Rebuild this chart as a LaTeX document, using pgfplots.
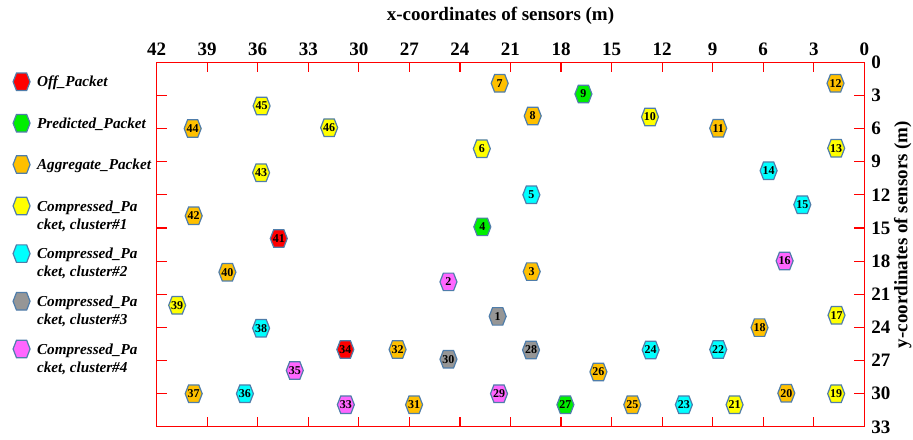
\documentclass[border=0pt]{standalone}
\usepackage{fontspec}
\setmainfont{Liberation Serif}
\usepackage{pgfplots}
\usepackage{pgfplotstable}
\pgfplotsset{compat=1.18}

\definecolor{offc}{HTML}{FF0000}
\definecolor{predc}{HTML}{00EE00}
\definecolor{aggc}{HTML}{FFC000}
\definecolor{cla}{HTML}{FFFF00}
\definecolor{clb}{HTML}{00FFFF}
\definecolor{clc}{HTML}{969696}
\definecolor{cld}{HTML}{FF66FF}
\definecolor{edge}{HTML}{4F7DAA}

% hexagon mark, pointed left/right
\pgfdeclareplotmark{hexa}{%
  \pgfpathmoveto{\pgfqpoint{\pgfplotmarksize}{0pt}}%
  \pgfpathlineto{\pgfqpoint{0.6\pgfplotmarksize}{1.03\pgfplotmarksize}}%
  \pgfpathlineto{\pgfqpoint{-0.6\pgfplotmarksize}{1.03\pgfplotmarksize}}%
  \pgfpathlineto{\pgfqpoint{-\pgfplotmarksize}{0pt}}%
  \pgfpathlineto{\pgfqpoint{-0.6\pgfplotmarksize}{-1.03\pgfplotmarksize}}%
  \pgfpathlineto{\pgfqpoint{0.6\pgfplotmarksize}{-1.03\pgfplotmarksize}}%
  \pgfpathclose
  \pgfusepathqfillstroke}

% sensor positions: x, y, sensor id
\pgfplotstableread{
x y n
34.75 15.95 41
30.80 26.00 34
}\offdata
\pgfplotstableread{
x y n
16.67 2.87 9
22.67 14.90 4
17.74 31.00 27
}\preddata
\pgfplotstableread{
x y n
21.64 1.90 7
19.68 4.86 8
39.86 6.00 44
39.80 13.90 42
37.80 19.00 40
39.80 30.00 37
19.74 18.95 3
27.70 26.00 32
15.78 28.03 26
26.72 31.00 31
1.71 1.90 12
8.67 5.97 11
6.22 24.02 18
4.63 29.96 20
13.77 31.00 25
}\aggdata
\pgfplotstableread{
x y n
35.77 3.95 45
35.80 10.00 43
31.76 5.92 46
22.70 7.82 6
40.78 22.00 39
12.72 4.95 10
1.67 7.78 13
1.65 22.90 17
1.67 30.00 19
7.70 31.00 21
}\cladata
\pgfplotstableread{
x y n
19.76 12.00 5
35.80 24.07 38
36.76 30.00 36
5.68 9.81 14
3.68 12.89 15
12.68 26.04 24
8.67 26.00 22
10.71 31.00 23
}\clbdata
\pgfplotstableread{
x y n
21.76 23.00 1
24.68 26.88 30
19.78 26.04 28
}\clcdata
\pgfplotstableread{
x y n
33.80 27.90 35
24.68 19.88 2
21.68 30.00 29
30.77 31.00 33
4.73 17.98 16
}\clddata

\pgfplotsset{
  pts/.style={only marks, mark=hexa, mark size=4.25pt,
    mark options={fill=#1, draw=edge, line width=0.6pt},
    nodes near coords, point meta=explicit symbolic,
    legend image code/.code={\draw[##1] plot coordinates {(4.6pt,2.6pt)};}},
}

\begin{document}
\begin{tikzpicture}
\begin{axis}[
  name=ax,
  scale only axis, width=354pt, height=182.35pt,
  xmin=0, xmax=42, ymin=0, ymax=33,
  x dir=reverse, y dir=reverse,
  xtick={0,3,...,42}, ytick={0,3,...,33},
  xticklabel pos=upper, yticklabel pos=right,
  tick align=inside, major tick length=5pt,
  axis line style={red, line width=0.6pt},
  every tick/.style={red, line width=0.6pt},
  tick label style={font=\fontsize{9.5}{11}\selectfont\bfseries},
  label style={font=\fontsize{9.5}{11}\selectfont\bfseries},
  /pgf/number format/assume math mode=true,
  xlabel={x-coordinates of sensors (m)},
  ylabel={y-coordinates of sensors (m)},
  xlabel style={xshift=-5pt, yshift=2pt},
  ylabel style={at={([shift={(-5pt,5pt)}]ticklabel cs:0.5)}},
  every node near coord/.append style={anchor=center, inner sep=0pt, text=black,
    font=\fontsize{6}{6}\selectfont\bfseries},
  clip=false,
  legend style={draw=none, fill=none, inner sep=0pt,
    at={(-0.2034,0.975)}, anchor=north west,
    font=\fontsize{7.6}{9}\selectfont\bfseries\itshape,
    nodes={text height=5.6pt},
    cells={anchor=base west}, row sep=9.6pt, column sep=1.5pt},
]
\addplot[pts=offc] table[meta=n] {\offdata};
\addlegendentry{Off\_Packet}
\addplot[pts=predc] table[meta=n] {\preddata};
\addlegendentry{Predicted\_Packet}
\addplot[pts=aggc] table[meta=n] {\aggdata};
\addlegendentry{Aggregate\_Packet}
\addplot[pts=cla] table[meta=n] {\cladata};
\addlegendentry[text depth=4.65pt]{\begin{tabular}[t]{@{}l@{}}Compressed\_Pa\\cket, cluster\#1\end{tabular}}
\addplot[pts=clb] table[meta=n] {\clbdata};
\addlegendentry[text depth=4.65pt]{\begin{tabular}[t]{@{}l@{}}Compressed\_Pa\\cket, cluster\#2\end{tabular}}
\addplot[pts=clc] table[meta=n] {\clcdata};
\addlegendentry[text depth=4.65pt]{\begin{tabular}[t]{@{}l@{}}Compressed\_Pa\\cket, cluster\#3\end{tabular}}
\addplot[pts=cld] table[meta=n] {\clddata};
\addlegendentry[text depth=4.65pt]{\begin{tabular}[t]{@{}l@{}}Compressed\_Pa\\cket, cluster\#4\end{tabular}}
\end{axis}
\pgfresetboundingbox
\path[use as bounding box] ([shift={(-78.35pt,-6.5pt)}]ax.south west)
  rectangle ([shift={(24.35pt,31.15pt)}]ax.north east);
\end{tikzpicture}
\end{document}
